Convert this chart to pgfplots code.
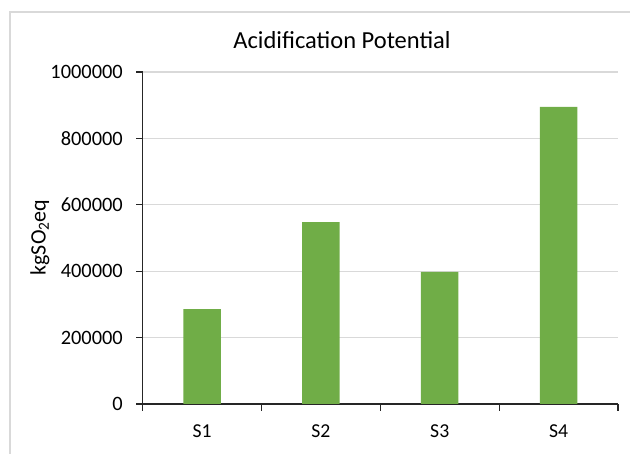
\documentclass[border=0pt]{standalone}
\usepackage{pgfplots}
\pgfplotsset{compat=1.18}
\usepackage{fontspec}
\setmainfont{Carlito}
\definecolor{barGreen}{HTML}{70AD47}
\definecolor{gridGray}{HTML}{D9D9D9}
\definecolor{frameGray}{HTML}{D9D9D9}
\definecolor{axisDark}{HTML}{262626}

\begin{document}
\begin{tikzpicture}[x=1bp,y=1bp]
\useasboundingbox (0,0) rectangle (630,454);
% chart area frame
\draw[frameGray, line width=1.2bp] (10,-20) rectangle (660,442);

\begin{axis}[
  at={(142.6bp,50bp)}, anchor=south west,
  scale only axis,
  width=475.4bp, height=332bp,
  xmin=-0.5, xmax=3.5,
  ymin=0, ymax=1000000,
  axis x line*=bottom, axis y line*=left,
  axis line style={axisDark, line width=1.2bp},
  ytick={0,200000,400000,600000,800000,1000000},
  xtick={-0.5,0.5,1.5,2.5,3.5},
  x tick label as interval,
  xticklabels={S1,S2,S3,S4},
  tick align=outside,
  major tick length=6.6bp,
  tick style={axisDark, line width=1.2bp},
  ymajorgrids,
  grid style={gridGray, line width=1.2bp},
  scaled y ticks=false,
  /pgf/number format/assume math mode=true,
  yticklabel style={/pgf/number format/fixed, /pgf/number format/1000 sep={},
    font=\fontsize{20.4bp}{24bp}\selectfont, inner sep=0pt, xshift=-13bp},
  xticklabel style={font=\fontsize{19.7bp}{24bp}\selectfont, inner sep=0pt, yshift=-14bp},
]
\addplot[ybar, bar width=37.5bp, fill=barGreen, draw=none]
  coordinates {(0,286000) (1,548000) (2,398000) (3,895000)};
\end{axis}

\node[font=\fontsize{24.5bp}{29bp}\selectfont] at (342,414) {Acidification Potential};
\node[rotate=90, font=\fontsize{22bp}{26bp}\selectfont] at (40,216.5) {kgSO\textsubscript{2}eq};
\end{tikzpicture}
\end{document}
